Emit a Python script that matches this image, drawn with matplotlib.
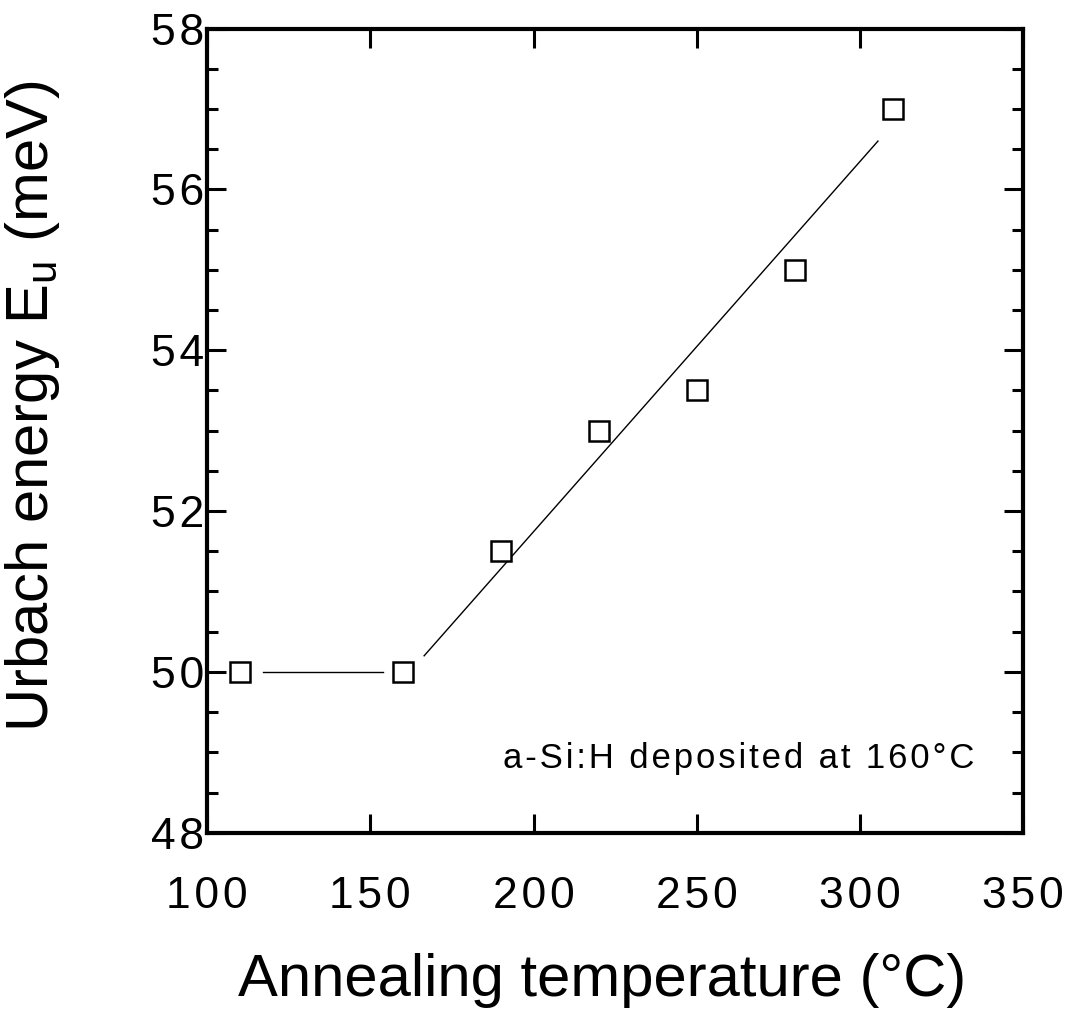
#!/usr/bin/env python
#
# urbach_energy.py
#

import matplotlib
matplotlib.use('Agg')
import matplotlib.pyplot as plt
from matplotlib.ticker import MultipleLocator, FuncFormatter


# annealing temperature (C) and Urbach energy (meV)
temps = [110, 160, 190, 220, 250, 280, 310]
energy = [50.0, 50.0, 51.5, 53.0, 53.5, 55.0, 57.0]

# guide lines drawn in the original figure
flat_x = [117, 154]
flat_y = [50.0, 50.0]
fit_x = [166.5, 305.5]
fit_y = [50.2, 56.6]

note = 'a-Si:H deposited at 160°C'


def spaced(v, pos):
    # the original tick labels have wide letter spacing
    return '\u200a'.join(str(int(round(v))))


def main():
    plt.rcParams['font.family'] = ['Liberation Sans', 'DejaVu Sans']

    fig = plt.figure(figsize=(10.67, 10.18), dpi=100)
    ax = fig.add_axes([0.194, 0.182, 0.765, 0.790])

    ax.plot(flat_x, flat_y, color='black', lw=1.0)
    ax.plot(fit_x, fit_y, color='black', lw=1.0)
    ax.plot(temps, energy, linestyle='none', marker='s', markersize=15,
            markerfacecolor='white', markeredgecolor='black',
            markeredgewidth=1.8)

    ax.set_xlim(100, 350)
    ax.set_ylim(48, 58)
    ax.xaxis.set_major_locator(MultipleLocator(50))
    ax.yaxis.set_major_locator(MultipleLocator(2))
    ax.yaxis.set_minor_locator(MultipleLocator(0.5))
    ax.xaxis.set_major_formatter(FuncFormatter(spaced))
    ax.yaxis.set_major_formatter(FuncFormatter(spaced))

    ax.tick_params(which='both', direction='in', top=True, right=True,
                   width=2.2, labelsize=32)
    ax.tick_params(which='major', length=14)
    ax.tick_params(which='minor', length=8)
    ax.tick_params(axis='x', pad=31)
    ax.tick_params(axis='y', pad=2)
    for s in ax.spines.values():
        s.set_linewidth(3.0)

    ax.set_xlabel('Annealing temperature (°C)', fontsize=43)
    ax.set_ylabel('Urbach energy E$_\\mathregular{u}$ (meV)', fontsize=43)
    ax.xaxis.set_label_coords(0.484, -0.150)
    ax.yaxis.set_label_coords(-0.178, 0.53)

    ax.text(335, 48.8, '\u200a'.join(note), fontsize=25, ha='right',
            va='baseline')

    fig.savefig('out.png')


if __name__ == '__main__':
    main()
